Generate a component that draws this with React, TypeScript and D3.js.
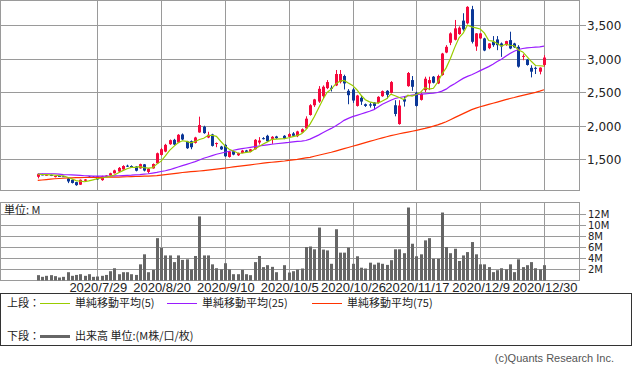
import * as d3 from "d3";
import React, { useEffect, useRef } from "react";

// trading days shown (10/1 = TSE system halt, no trade)
const dates = [
  "7/7", "7/8", "7/9", "7/10", "7/13", "7/14", "7/15", "7/16", "7/17", "7/20",
  "7/21", "7/22", "7/27", "7/28", "7/29", "7/30", "7/31", "8/3", "8/4", "8/5",
  "8/6", "8/7", "8/11", "8/12", "8/13", "8/14", "8/17", "8/18", "8/19", "8/20",
  "8/21", "8/24", "8/25", "8/26", "8/27", "8/28", "8/31", "9/1", "9/2", "9/3",
  "9/4", "9/7", "9/8", "9/9", "9/10", "9/11", "9/14", "9/15", "9/16", "9/17",
  "9/18", "9/23", "9/24", "9/25", "9/28", "9/29", "9/30", "10/1", "10/2", "10/5",
  "10/6", "10/7", "10/8", "10/9", "10/12", "10/13", "10/14", "10/15", "10/16", "10/19",
  "10/20", "10/21", "10/22", "10/23", "10/26", "10/27", "10/28", "10/29", "10/30", "11/2",
  "11/4", "11/5", "11/6", "11/9", "11/10", "11/11", "11/12", "11/13", "11/16", "11/17",
  "11/18", "11/19", "11/20", "11/24", "11/25", "11/26", "11/27", "11/30", "12/1", "12/2",
  "12/3", "12/4", "12/7", "12/8", "12/9", "12/10", "12/11", "12/14", "12/15", "12/16",
  "12/17", "12/18", "12/21", "12/22", "12/23", "12/24", "12/25", "12/28", "12/29", "12/30",
].map((d) => "2020/" + d);

const tickDates = ["2020/7/29", "2020/8/20", "2020/9/10", "2020/10/5", "2020/10/26", "2020/11/17", "2020/12/9", "2020/12/30"];
const priceTicks = [1500, 2000, 2500, 3000, 3500];
const volTicks = [2, 4, 6, 8, 10, 12];

type N = number | null;

const open: N[] = [
  1240, 1275, 1262, 1268, 1240, 1252, 1248, 1215, 1195, 1160,
  1122, 1180, 1242, 1240, 1245, 1190, 1240, 1258, 1292, 1318,
  1350, 1405, 1400, 1392, 1365, 1425, 1312, 1365, 1440, 1565,
  1615, 1725, 1790, 1750, 1870, 1765, 1770, 1745, 1900, 1985,
  1825, 1870, 1735, 1690, 1715, 1535, 1620, 1560, 1595, 1632,
  1610, 1650, 1750, 1815, 1850, 1805, 1840, null, 1850, 1835,
  1885, 1845, 1900, 1960, 2160, 2305, 2360, 2440, 2560, 2565,
  2600, 2650, 2740, 2520, 2540, 2295, 2415, 2320, 2318, 2345,
  2340, 2440, 2520, 2490, 2305, 2025, 2395, 2590, 2680, 2490,
  2385, 2530, 2630, 2730, 2630, 2755, 3090, 3236, 3280, 3365,
  3565, 3525, 3735, 3180, 3300, 3300, 3155, 3250, 3285, 3225,
  3200, 3275, 3225, 3175, 3030, 2985, 2862, 2862, 2805, 2905,
];
const high: N[] = [
  1290, 1285, 1275, 1272, 1255, 1256, 1252, 1222, 1200, 1165,
  1200, 1205, 1250, 1248, 1252, 1255, 1262, 1300, 1345, 1385,
  1412, 1420, 1410, 1398, 1435, 1430, 1370, 1438, 1600, 1670,
  1730, 1795, 1805, 1875, 1885, 1775, 1780, 1835, 2135, 2000,
  1910, 1880, 1750, 1700, 1725, 1625, 1630, 1600, 1640, 1640,
  1655, 1800, 1830, 1830, 1865, 1845, 1850, null, 1860, 1890,
  1905, 1925, 1960, 2140, 2320, 2400, 2590, 2600, 2680, 2600,
  2830, 2830, 2760, 2545, 2560, 2460, 2450, 2330, 2345, 2350,
  2440, 2525, 2530, 2665, 2380, 2380, 2430, 2800, 2740, 2505,
  2490, 2730, 2730, 2740, 2760, 3085, 3200, 3390, 3575, 3480,
  3675, 3780, 3785, 3380, 3380, 3310, 3230, 3335, 3335, 3240,
  3265, 3400, 3235, 3200, 3065, 2995, 2900, 2880, 2870, 3050,
];
const low: N[] = [
  1215, 1262, 1255, 1250, 1230, 1240, 1236, 1145, 1140, 1105,
  1118, 1175, 1228, 1225, 1195, 1180, 1235, 1255, 1288, 1310,
  1345, 1385, 1385, 1320, 1360, 1320, 1290, 1360, 1435, 1555,
  1605, 1715, 1710, 1740, 1785, 1655, 1650, 1735, 1895, 1880,
  1815, 1690, 1680, 1640, 1535, 1525, 1560, 1550, 1590, 1600,
  1605, 1645, 1720, 1795, 1760, 1730, 1805, null, 1800, 1825,
  1840, 1830, 1890, 1955, 2150, 2280, 2340, 2400, 2545, 2510,
  2590, 2630, 2540, 2320, 2340, 2285, 2310, 2280, 2270, 2240,
  2330, 2430, 2405, 2480, 2140, 2015, 2285, 2580, 2520, 2285,
  2375, 2500, 2530, 2630, 2620, 2745, 3080, 3200, 3270, 3355,
  3415, 3510, 3225, 3115, 3290, 3110, 3140, 3175, 3125, 3025,
  3190, 3140, 3160, 2865, 2975, 2895, 2720, 2770, 2765, 2880,
];
const close: N[] = [
  1280, 1268, 1270, 1258, 1250, 1244, 1240, 1170, 1148, 1115,
  1195, 1200, 1232, 1230, 1200, 1245, 1258, 1292, 1335, 1372,
  1400, 1398, 1395, 1330, 1428, 1332, 1362, 1430, 1590, 1650,
  1715, 1785, 1720, 1865, 1795, 1665, 1680, 1825, 2010, 1890,
  1865, 1700, 1742, 1648, 1545, 1615, 1570, 1592, 1630, 1610,
  1648, 1790, 1780, 1808, 1770, 1835, 1815, null, 1810, 1875,
  1850, 1915, 1948, 2105, 2305, 2392, 2550, 2580, 2650, 2550,
  2770, 2770, 2630, 2455, 2375, 2450, 2360, 2295, 2300, 2295,
  2430, 2515, 2460, 2650, 2175, 2300, 2360, 2785, 2580, 2295,
  2475, 2700, 2680, 2640, 2740, 3075, 3175, 3375, 3450, 3460,
  3435, 3770, 3250, 3375, 3375, 3120, 3225, 3200, 3200, 3180,
  3260, 3150, 3168, 2880, 3040, 2905, 2805, 2852, 2865, 3015,
];
// volume, million shares
const volume: N[] = [
  0.96, 0.66, 0.84, 0.96, 0.78, 0.54, 0.66, 1.49, 0.84, 1.0,
  1.13, 0.84, 1.13, 0.66, 0.72, 0.84, 1.0, 1.67, 2.2, 1.13,
  1.49, 1.49, 1.13, 1.0, 2.9, 4.7, 1.49, 1.9, 7.6, 5.85,
  4.5, 4.5, 3.3, 4.5, 3.7, 3.8, 2.0, 4.4, 11.5, 4.5,
  4.5, 2.9, 2.2, 2.0, 3.1, 2.0, 1.13, 1.13, 1.9, 1.13,
  0.96, 3.3, 4.4, 2.4, 2.75, 2.45, 1.49, null, 2.75, 1.43,
  1.67, 1.97, 2.15, 6.0, 6.1, 5.6, 9.5, 5.55, 5.4, 3.0,
  9.2, 5.0, 5.0, 5.9, 3.0, 4.35, 2.3, 2.15, 3.2, 2.85,
  3.2, 3.0, 2.8, 3.65, 5.6, 5.6, 4.9, 13.1, 6.6, 4.35,
  4.7, 7.2, 7.6, 3.9, 3.9, 12.2, 6.0, 4.9, 5.7, 3.5,
  4.5, 5.1, 6.9, 4.7, 2.9, 2.9, 2.4, 1.5, 1.85, 2.2,
  2.0, 2.9, 1.5, 3.8, 2.4, 2.75, 3.3, 2.2, 2.0, 2.75,
];
// 25 / 75 day averages as drawn (they include days before the window)
const ma25: number[] = [
  1285, 1285, 1285, 1285, 1285, 1280, 1272, 1270, 1268, 1265,
  1260, 1255, 1252, 1250, 1250, 1250, 1250, 1250, 1252, 1255,
  1258, 1260, 1263, 1268, 1272, 1278, 1285, 1295, 1305, 1318,
  1330, 1345, 1365, 1385, 1405, 1425, 1445, 1465, 1490, 1515,
  1535, 1555, 1575, 1590, 1605, 1620, 1635, 1648, 1658, 1668,
  1678, 1688, 1698, 1708, 1716, 1724, 1732, 1740, 1746, 1752,
  1760, 1766, 1772, 1780, 1800, 1830, 1860, 1895, 1930, 1960,
  1995, 2035, 2080, 2110, 2135, 2155, 2175, 2195, 2215, 2240,
  2280, 2320, 2350, 2380, 2405, 2420, 2432, 2445, 2455, 2465,
  2470, 2475, 2480, 2485, 2495, 2515, 2545, 2590, 2625, 2665,
  2705, 2735, 2760, 2790, 2820, 2850, 2880, 2915, 2955, 2990,
  3035, 3075, 3110, 3135, 3150, 3160, 3165, 3170, 3175, 3185,
];
const ma75: number[] = [
  1186, 1192, 1198, 1204, 1210, 1214, 1218, 1222, 1224, 1226,
  1228, 1229, 1230, 1230, 1231, 1232, 1233, 1234, 1235, 1236,
  1238, 1240, 1242, 1244, 1246, 1248, 1250, 1254, 1258, 1265,
  1272, 1280, 1288, 1295, 1303, 1310, 1315, 1320, 1326, 1332,
  1338, 1345, 1353, 1362, 1370, 1378, 1386, 1394, 1402, 1410,
  1418, 1426, 1434, 1442, 1450, 1456, 1462, 1468, 1475, 1483,
  1492, 1500, 1510, 1520, 1530, 1545, 1560, 1575, 1590, 1605,
  1622, 1640, 1658, 1676, 1694, 1712, 1730, 1748, 1766, 1784,
  1802, 1820, 1836, 1852, 1866, 1880, 1893, 1905, 1918, 1932,
  1946, 1960, 1976, 1993, 2012, 2035, 2060, 2090, 2120, 2150,
  2180, 2210, 2240, 2262, 2282, 2300, 2318, 2335, 2352, 2370,
  2388, 2405, 2420, 2437, 2452, 2467, 2482, 2497, 2515, 2535,
];

const UP = "#f5083c";
const DOWN = "#0b3797";
const C5 = "#99cc00";
const C25 = "#9a1cff";
const C75 = "#ff3300";
const GRID = "#9a9a9a";
const JP = "'Noto Sans CJK JP', sans-serif";

const CandleChart: React.FC = () => {
  const ref = useRef<SVGSVGElement>(null);

  useEffect(() => {
    if (!ref.current) return;
    const svg = d3.select(ref.current);
    svg.selectAll("*").remove();

    const right = 579.5;
    const x = d3.scaleLinear().domain([14, 119]).range([97.3, 544]);
    const y = d3.scaleLinear().domain([1500, 3500]).range([159.3, 25]);
    const yv = d3.scaleLinear().domain([0, 14]).range([280.5, 202.5]);
    const px = (i: number) => Math.round(x(i)) + 0.5;

    svg.append("rect").attr("width", 633).attr("height", 371).attr("fill", "#fff");

    // panels
    const panels = [
      [0.5, 190.5],
      [202.5, 280.5],
    ];
    const tickIdx = tickDates.map((d) => dates.indexOf(d));
    panels.forEach(([t, b]) => {
      tickIdx.forEach((i) => {
        svg.append("line").attr("x1", px(i)).attr("x2", px(i)).attr("y1", t).attr("y2", b)
          .attr("stroke", GRID);
      });
    });
    priceTicks.forEach((p) => {
      const yy = Math.round(y(p)) + 0.5;
      svg.append("line").attr("x1", 0).attr("x2", 586).attr("y1", yy).attr("y2", yy).attr("stroke", GRID);
      svg.append("text").attr("x", 587).attr("y", yy + 4.5).text(d3.format(",")(p))
        .attr("font-family", "'DejaVu Sans', sans-serif").attr("font-size", 12).attr("fill", "#222");
    });
    volTicks.forEach((v) => {
      const yy = Math.round(yv(v)) + 0.5;
      svg.append("line").attr("x1", 0).attr("x2", 586).attr("y1", yy).attr("y2", yy).attr("stroke", GRID);
      svg.append("text").attr("x", 588).attr("y", yy + 3.5).text(v + "M")
        .attr("font-family", "'DejaVu Sans', sans-serif").attr("font-size", 10).attr("fill", "#222");
    });
    panels.forEach(([t, b]) => {
      svg.append("rect").attr("x", 0.5).attr("y", t).attr("width", right - 0.5).attr("height", b - t)
        .attr("fill", "none").attr("stroke", GRID);
    });

    // date labels
    tickIdx.forEach((i, k) => {
      svg.append("text").attr("x", x(i) + 1).attr("y", 292).attr("text-anchor", "middle")
        .attr("font-family", "'Liberation Sans', sans-serif").attr("font-size", 13).attr("fill", "#222")
        .text(tickDates[k]);
    });
    svg.append("text").attr("x", 4).attr("y", 214).text("単位: M")
      .attr("font-family", JP).attr("font-size", 11).attr("fill", "#222");

    const idx = d3.range(dates.length).filter((i) => close[i] != null);

    // volume
    svg.append("g").selectAll("rect").data(idx.filter((i) => volume[i] != null)).enter().append("rect")
      .attr("x", (i) => Math.round(x(i)) - 1)
      .attr("width", 3)
      .attr("y", (i) => yv(volume[i] as number))
      .attr("height", (i) => yv(0) - yv(volume[i] as number))
      .attr("fill", "#666");

    // candles
    const g = svg.append("g");
    idx.forEach((i) => {
      const o = open[i] as number, c = close[i] as number;
      const col = c >= o ? UP : DOWN;
      g.append("line").attr("x1", px(i)).attr("x2", px(i))
        .attr("y1", y(high[i] as number)).attr("y2", y(low[i] as number))
        .attr("stroke", col).attr("stroke-width", 1);
      const top = y(Math.max(o, c)), bot = y(Math.min(o, c));
      g.append("rect").attr("x", Math.round(x(i)) - 1).attr("width", 3)
        .attr("y", top).attr("height", Math.max(1, bot - top)).attr("fill", col);
    });

    // moving averages
    const closes = idx.map((i) => close[i] as number);
    const ma5 = closes.map((_, k) => d3.mean(closes.slice(Math.max(0, k - 4), k + 1)) as number);
    const line = d3.line<[number, number]>().x((d) => x(d[0])).y((d) => y(d[1]));
    const lines: [number[], string][] = [
      [ma75, C75],
      [ma25, C25],
    ];
    lines.forEach(([arr, col]) => {
      svg.append("path").attr("d", line(idx.map((i) => [i, arr[i]]))).attr("fill", "none")
        .attr("stroke", col).attr("stroke-width", 1.2);
    });
    svg.append("path").attr("d", line(idx.map((i, k) => [i, ma5[k]]))).attr("fill", "none")
      .attr("stroke", C5).attr("stroke-width", 1.2);

    // legend
    const lg = svg.append("g").attr("font-family", JP).attr("font-size", 11).attr("fill", "#222");
    lg.append("rect").attr("x", 0.5).attr("y", 293.5).attr("width", 631).attr("height", 52)
      .attr("fill", "none").attr("stroke", "#333");
    lg.append("text").attr("x", 7).attr("y", 307).text("上段：");
    const items: [string, string, number][] = [
      ["単純移動平均(5)", C5, 40],
      ["単純移動平均(25)", C25, 167],
      ["単純移動平均(75)", C75, 312],
    ];
    items.forEach(([t, col, lx]) => {
      lg.append("line").attr("x1", lx).attr("x2", lx + 30).attr("y1", 303.5).attr("y2", 303.5)
        .attr("stroke", col);
      lg.append("text").attr("x", lx + 35).attr("y", 307).text(t);
    });
    lg.append("text").attr("x", 7).attr("y", 340).text("下段：");
    lg.append("rect").attr("x", 40).attr("y", 335).attr("width", 30).attr("height", 3).attr("fill", "#666");
    lg.append("text").attr("x", 75).attr("y", 340).text("出来高 単位:(M株/口/枚)");

    svg.append("text").attr("x", 614).attr("y", 362).attr("text-anchor", "end")
      .attr("font-family", "'Liberation Sans', sans-serif").attr("font-size", 11).attr("fill", "#555")
      .text("(c)Quants Research Inc.");
  }, []);

  return <svg ref={ref} width={633} height={371} style={{ display: "block" }}></svg>;
};

export default function App() {
  return (
    <>
      <style>{"body{margin:0}"}</style>
      <CandleChart />
    </>
  );
}
